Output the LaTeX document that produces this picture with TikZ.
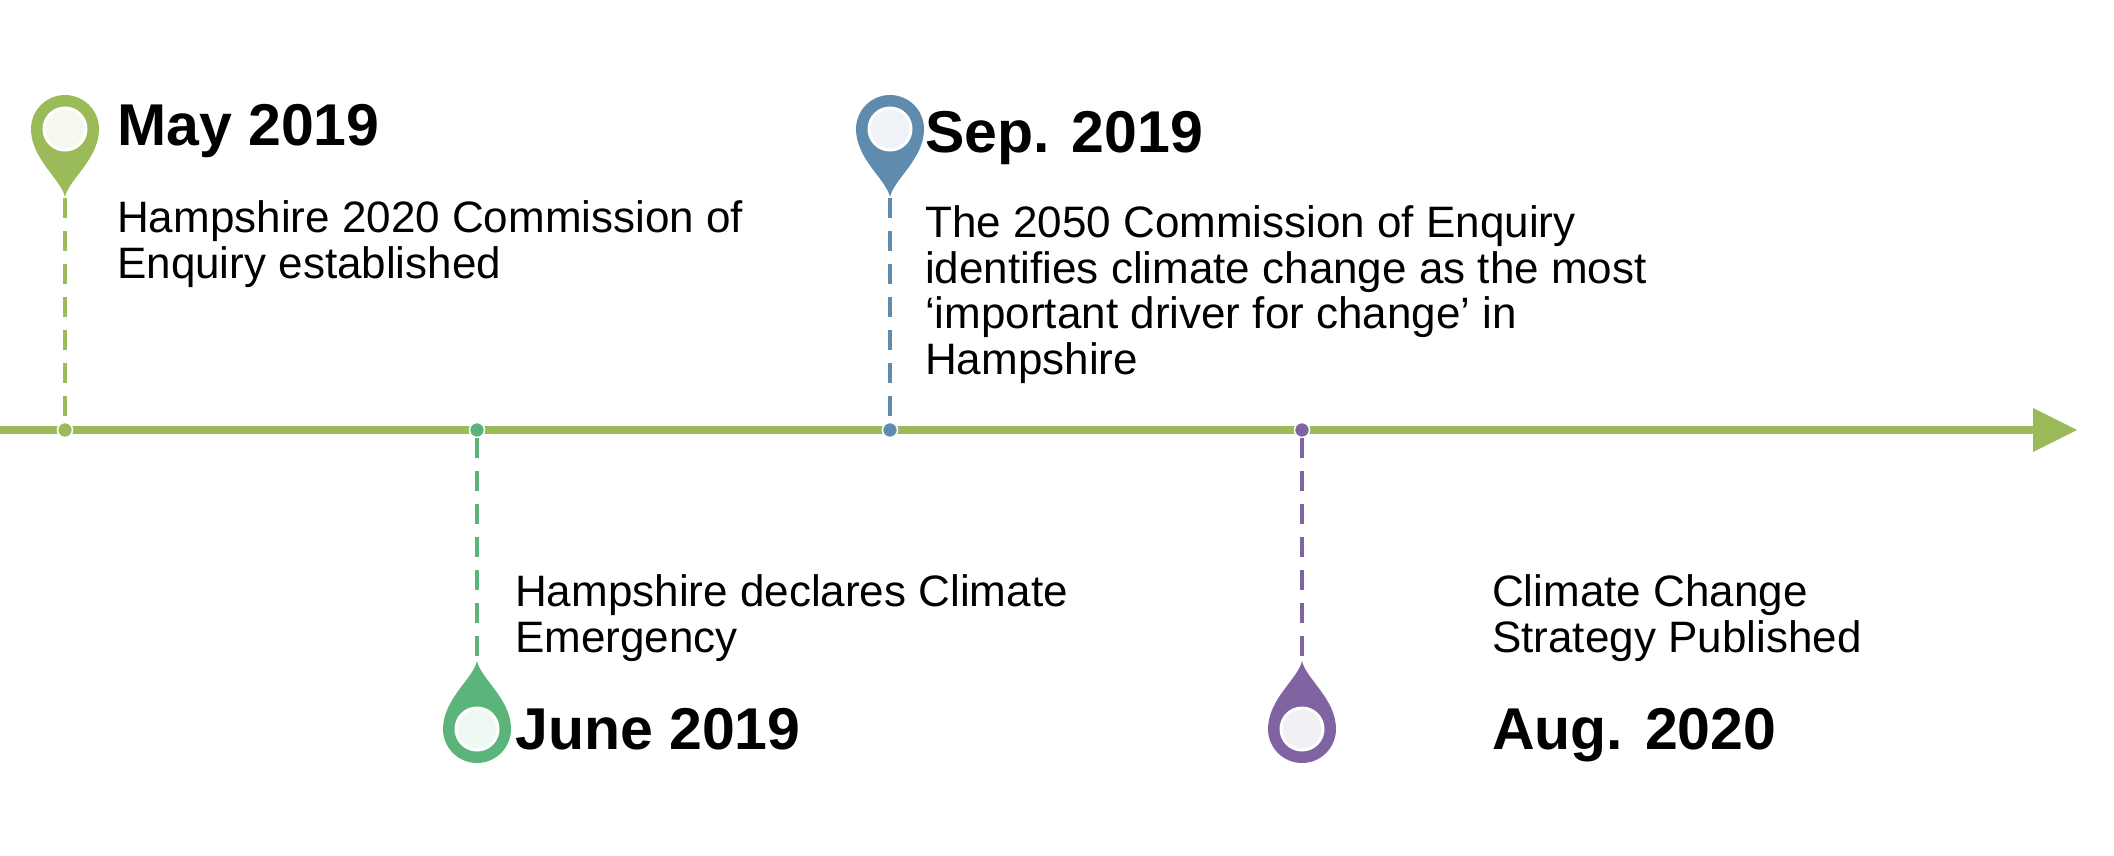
\documentclass[tikz,border=0pt]{standalone}
\usepackage{fontspec}
\setmainfont{Liberation Sans}
\begin{document}
\begin{tikzpicture}[x=1pt,y=-1pt,
  title/.style={anchor=base west,inner sep=0,font=\fontsize{59}{60}\selectfont\bfseries},
  body/.style={anchor=base west,inner sep=0,align=left,font=\fontsize{44}{45.5}\selectfont},
  dot/.style={circle,draw=white,line width=1.5pt,inner sep=0,minimum size=15pt,fill=#1},
  link/.style={draw=#1,line width=3.5pt,dash pattern=on 20pt off 13pt},
  pin/.pic={
    \fill[#1] (0,68) .. controls (4,50) and (34,30) .. (34,0)
      arc[start angle=0,end angle=-180,radius=34]
      .. controls (-34,30) and (-4,50) .. (0,68) -- cycle;
    \filldraw[fill=#1!10!white,draw=white,line width=3pt] (0,0) circle (21);
  }]
\definecolor{lgreen}{HTML}{9BBB59}
\definecolor{mgreen}{HTML}{5BB57A}
\definecolor{pblue}{HTML}{5F8CAE}
\definecolor{ppurple}{HTML}{8064A2}
\useasboundingbox (0,0) rectangle (2114,855);
% axis
\draw[lgreen,line width=8pt] (0,430) -- (2040,430);
\fill[lgreen] (2077,430) -- (2033,408) -- (2033,452) -- cycle;
% pins
\pic at (65,129) {pin=lgreen};
\pic at (890,129) {pin=pblue};
\pic[rotate=180] at (477,729) {pin=mgreen};
\pic[rotate=180] at (1302,729) {pin=ppurple};
\coordinate (p1) at (65,198);
\coordinate (p2) at (890,198);
\coordinate (p3) at (477,662);
\coordinate (p4) at (1302,662);
% markers
\node[dot=lgreen] (m1) at (65,430) {};
\node[dot=mgreen] (m2) at (477,430) {};
\node[dot=pblue] (m3) at (890,430) {};
\node[dot=ppurple] (m4) at (1302,430) {};
\draw[link=lgreen] (p1) -- (m1);
\draw[link=pblue] (p2) -- (m3);
\draw[link=mgreen] (m2) -- (p3);
\draw[link=ppurple] (m4) -- (p4);
% texts
\node[title] (t1) at (117,145) {May 2019};
\node[body] (b1) at (117,278) {Hampshire 2020 Commission of\\Enquiry established};
\node[title] (t2) at (925,152) {Sep. 2019};
\node[body] (b2) at (925,374) {The 2050 Commission of Enquiry\\identifies climate change as the most\\‘important driver for change’ in\\Hampshire};
\node[body] (b3) at (515,652) {Hampshire declares Climate\\Emergency};
\node[title] (t3) at (515,749) {June 2019};
\node[body] (b4) at (1492,652) {Climate Change\\Strategy Published};
\node[title] (t4) at (1492,749) {Aug. 2020};
\end{tikzpicture}
\end{document}
